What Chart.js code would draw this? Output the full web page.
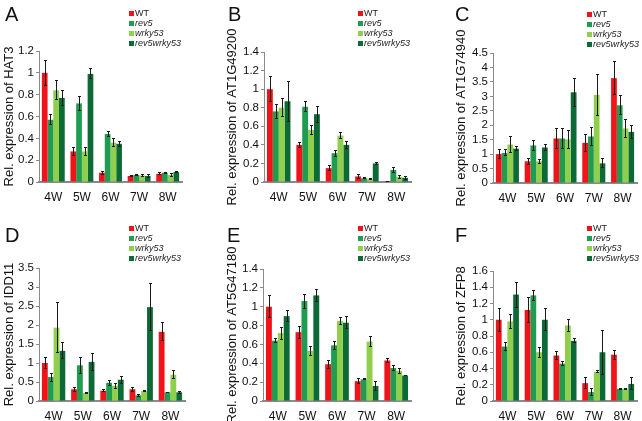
<!DOCTYPE html>
<html>
<head>
<meta charset="utf-8">
<script src="https://cdn.jsdelivr.net/npm/chart.js@4.4.1/dist/chart.umd.min.js"></script>
<style>
  body { margin: 0; background: #fff; width: 642px; height: 421px; position: relative; overflow: hidden;
         font-family: "Liberation Sans", Arial, sans-serif; }
  .panel { position: absolute; width: 214px; height: 211px; }
  .panel canvas { position: absolute; left: 0; top: 0; }
  .letter { position: absolute; font-size: 20px; line-height: 20px; color: #111; }
  .legend { position: absolute; font-size: 9px; line-height: 10px; color: #222; }
  .legend div { white-space: nowrap; height: 10px; }
  .legend .sw { display: inline-block; width: 5px; height: 5px; margin-right: 1px; vertical-align: 0px; }
</style>
</head>
<body>
<script>
// x categories and genotypes (legend order)
const weeks = ['4W', '5W', '6W', '7W', '8W'];
const genotypes = ['WT', 'rev5', 'wrky53', 'rev5wrky53'];

// one row per genotype: WT, rev5, wrky53, rev5wrky53
const hat3 = [[1.0, 0.28, 0.085, 0.055, 0.075], [0.57, 0.72, 0.44, 0.065, 0.085],
              [0.84, 0.28, 0.36, 0.06, 0.065], [0.77, 0.99, 0.35, 0.055, 0.09]];
const hat3Err = [[0.12, 0.04, 0.02, 0.01, 0.015], [0.05, 0.07, 0.03, 0.01, 0.01],
                 [0.09, 0.04, 0.04, 0.01, 0.015], [0.07, 0.05, 0.03, 0.02, 0.01]];

const at1g49200 = [[1.0, 0.40, 0.15, 0.06, 0.01], [0.76, 0.81, 0.31, 0.04, 0.13],
                   [0.80, 0.56, 0.50, 0.035, 0.055], [0.87, 0.73, 0.40, 0.20, 0.045]];
const at1g49200Err = [[0.14, 0.03, 0.03, 0.03, 0.005], [0.08, 0.06, 0.04, 0.01, 0.03],
                      [0.10, 0.05, 0.04, 0.01, 0.02], [0.22, 0.09, 0.04, 0.02, 0.02]];

const at1g74940 = [[1.0, 0.75, 1.54, 1.39, 3.63], [1.04, 1.30, 1.54, 1.61, 2.69],
                   [1.33, 0.75, 1.51, 3.05, 1.89], [1.19, 1.23, 3.14, 0.68, 1.77]];
const at1g74940Err = [[0.18, 0.12, 0.35, 0.30, 0.60], [0.12, 0.18, 0.38, 0.33, 0.35],
                      [0.28, 0.08, 0.33, 0.72, 0.32], [0.09, 0.12, 0.50, 0.17, 0.24]];

const idd11 = [[1.0, 0.31, 0.27, 0.31, 1.82], [0.63, 0.94, 0.48, 0.15, 0.23],
               [1.93, 0.21, 0.40, 0.26, 0.69], [1.32, 1.03, 0.56, 2.47, 0.23]];
const idd11Err = [[0.15, 0.07, 0.04, 0.07, 0.25], [0.12, 0.23, 0.08, 0.04, 0.02],
                  [0.67, 0.02, 0.08, 0.03, 0.12], [0.22, 0.24, 0.10, 0.63, 0.04]];

const at5g47180 = [[1.0, 0.73, 0.39, 0.21, 0.43], [0.64, 1.06, 0.59, 0.23, 0.35],
                   [0.72, 0.53, 0.85, 0.63, 0.32], [0.90, 1.12, 0.83, 0.16, 0.27]];
const at5g47180Err = [[0.12, 0.07, 0.05, 0.03, 0.03], [0.03, 0.08, 0.05, 0.01, 0.03],
                      [0.07, 0.05, 0.04, 0.06, 0.03], [0.06, 0.07, 0.07, 0.05, 0.01]];

const zfp8 = [[1.0, 1.12, 0.56, 0.22, 0.57], [0.67, 1.30, 0.46, 0.11, 0.15],
              [0.98, 0.60, 0.93, 0.36, 0.15], [1.31, 1.00, 0.74, 0.60, 0.21]];
const zfp8Err = [[0.15, 0.16, 0.06, 0.07, 0.06], [0.06, 0.07, 0.03, 0.05, 0.01],
                 [0.09, 0.07, 0.08, 0.02, 0.01], [0.16, 0.14, 0.03, 0.28, 0.08]];

const colors = ['#f0141a', '#1f9c50', '#8fcf4c', '#0c6a36'];

// panel placement: canvas origin, y axis x, plot top/bottom/right, title offset, legend origin
const panels = [
  { letter: 'A', gene: 'HAT3', vals: hat3, errs: hat3Err, max: 1.2, step: 0.2,
    left: 0, top: 0, axisX: 39, plotTop: 51, plotBottom: 182, plotRight: 182, titlePad: 2, legX: 129, legY: 8, letterX: 5, letterY: 4 },
  { letter: 'B', gene: 'AT1G49200', vals: at1g49200, errs: at1g49200Err, max: 1.4, step: 0.2,
    left: 214, top: 0, axisX: 50, plotTop: 52, plotBottom: 182, plotRight: 197, titlePad: 11, legX: 144, legY: 8, letterX: 14, letterY: 4 },
  { letter: 'C', gene: 'AT1G74940', vals: at1g74940, errs: at1g74940Err, max: 4.5, step: 0.5,
    left: 428, top: 0, axisX: 65, plotTop: 53, plotBottom: 183, plotRight: 209, titlePad: 26, legX: 159, legY: 9, letterX: 27, letterY: 4 },
  { letter: 'D', gene: 'IDD11', vals: idd11, errs: idd11Err, max: 3.5, step: 0.5,
    left: 0, top: 210, axisX: 39, plotTop: 58, plotBottom: 191, plotRight: 185, titlePad: 2, legX: 129, legY: 13, letterX: 5, letterY: 15 },
  { letter: 'E', gene: 'AT5G47180', vals: at5g47180, errs: at5g47180Err, max: 1.4, step: 0.2,
    left: 214, top: 210, axisX: 49, plotTop: 59, plotBottom: 191, plotRight: 197, titlePad: 11, legX: 144, legY: 13, letterX: 13, letterY: 15 },
  { letter: 'F', gene: 'ZFP8', vals: zfp8, errs: zfp8Err, max: 1.6, step: 0.2,
    left: 428, top: 210, axisX: 65, plotTop: 61, plotBottom: 191, plotRight: 209, titlePad: 26, legX: 159, legY: 13, letterX: 27, letterY: 15 },
];

const errorBars = {
  id: 'errorBars',
  afterDatasetsDraw(chart) {
    const ctx = chart.ctx;
    const y = chart.scales.y;
    ctx.save();
    ctx.strokeStyle = '#1a1a1a';
    ctx.lineWidth = 1;
    chart.data.datasets.forEach((ds, di) => {
      chart.getDatasetMeta(di).data.forEach((bar, i) => {
        const v = ds.data[i], e = ds.errors[i];
        const yHi = Math.round(y.getPixelForValue(v + e)), yLo = Math.round(y.getPixelForValue(v - e));
        const x = Math.round(bar.x) + 0.5;
        ctx.beginPath();
        ctx.moveTo(x, yHi); ctx.lineTo(x, yLo);
        ctx.moveTo(x - 1.5, yHi + 0.5); ctx.lineTo(x + 1.5, yHi + 0.5);
        ctx.moveTo(x - 1.5, yLo - 0.5); ctx.lineTo(x + 1.5, yLo - 0.5);
        ctx.stroke();
      });
    });
    ctx.restore();
  }
};

panels.forEach(p => {
  const W = 214, H = 211;
  const box = document.createElement('div');
  box.className = 'panel';
  box.style.left = p.left + 'px';
  box.style.top = p.top + 'px';
  const canvas = document.createElement('canvas');
  canvas.width = W; canvas.height = H;
  box.appendChild(canvas);

  const letter = document.createElement('div');
  letter.className = 'letter';
  letter.style.left = p.letterX + 'px';
  letter.style.top = p.letterY + 'px';
  letter.textContent = p.letter;
  box.appendChild(letter);

  const legend = document.createElement('div');
  legend.className = 'legend';
  legend.style.left = p.legX + 'px';
  legend.style.top = p.legY + 'px';
  genotypes.forEach((g, i) => {
    const row = document.createElement('div');
    row.innerHTML = '<span class="sw" style="background:' + colors[i] + '"></span>' +
      (i === 0 ? '<span>' + g + '</span>' : '<i>' + g + '</i>');
    legend.appendChild(row);
  });
  box.appendChild(legend);
  document.body.appendChild(box);

  new Chart(canvas.getContext('2d'), {
    type: 'bar',
    data: {
      labels: weeks,
      datasets: genotypes.map((g, i) => ({
        label: g,
        data: p.vals[i],
        errors: p.errs[i],
        backgroundColor: colors[i],
        borderWidth: 0,
        categoryPercentage: 0.8,
        barPercentage: 1.0,
      })),
    },
    options: {
      responsive: false,
      animation: false,
      devicePixelRatio: 1,
      layout: { padding: { left: 0, top: p.plotTop, right: W - p.plotRight, bottom: 0 } },
      plugins: { legend: { display: false }, tooltip: { enabled: false } },
      scales: {
        x: {
          grid: { display: false, drawTicks: false },
          border: { color: '#8a8a8a', width: 2 },
          ticks: { color: '#111', font: { size: 12, family: 'Liberation Sans' }, padding: 8 },
          afterFit: s => { s.height = H - p.plotBottom; },
        },
        y: {
          min: 0, max: p.max,
          grid: { display: true, drawOnChartArea: false, tickLength: 3, color: '#8a8a8a' },
          border: { color: '#8a8a8a', width: 1 },
          ticks: { stepSize: p.step, autoSkip: false, color: '#111', padding: 2,
                   font: { size: 11.5, family: 'Liberation Sans' },
                   callback: v => String(+v.toFixed(2)) },
          title: { display: true, text: 'Rel. expression of ' + p.gene, color: '#111',
                   font: { size: 13, family: 'Liberation Sans' }, padding: { top: p.titlePad, bottom: 0 } },
          afterFit: s => { s.width = p.axisX; },
        },
      },
    },
    plugins: [errorBars],
  });
});
</script>
</body>
</html>
